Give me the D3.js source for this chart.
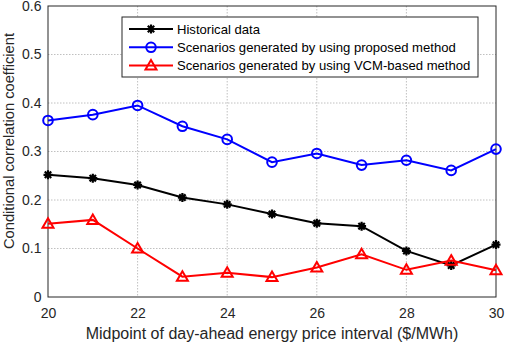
<!DOCTYPE html>
<html>
<head>
<meta charset="utf-8">
<script src="https://cdn.jsdelivr.net/npm/d3@7"></script>
<style>
  body { margin: 0; background: #fff; }
  svg { font-family: "Liberation Sans", Arial, sans-serif; }
  .grid line { stroke: #b0b0b0; stroke-width: 0.8; stroke-dasharray: 1.5,1.5; }
  .axis path, .axis line { stroke: #262626; }
  .axis text { fill: #262626; font-size: 14px; }
</style>
</head>
<body>
<div id="chart"></div>
<script>
// price interval midpoints
var midpoints = [20, 21, 22, 23, 24, 25, 26, 27, 28, 29, 30];
var historical = [0.252, 0.245, 0.231, 0.205, 0.191, 0.171, 0.152, 0.146, 0.095, 0.065, 0.108];
var proposed = [0.364, 0.376, 0.395, 0.352, 0.325, 0.278, 0.296, 0.272, 0.282, 0.261, 0.305];
var vcmBased = [0.151, 0.159, 0.100, 0.042, 0.050, 0.041, 0.061, 0.088, 0.056, 0.075, 0.055];
var xTicks = [20, 22, 24, 26, 28, 30];
var yTicks = [0, 0.1, 0.2, 0.3, 0.4, 0.5, 0.6];

var seriesList = [
  { name: "Historical data", values: historical, color: "#000000", marker: "star" },
  { name: "Scenarios generated by using proposed method", values: proposed, color: "#0000ff", marker: "circle" },
  { name: "Scenarios generated by using VCM-based method", values: vcmBased, color: "#ff0000", marker: "triangle" }
];

var margin = { top: 6, right: 9, bottom: 47, left: 48 };
var width = 505 - margin.left - margin.right;
var height = 344 - margin.top - margin.bottom;

var svg = d3.select("#chart").append("svg")
  .attr("width", 505)
  .attr("height", 344);

var g = svg.append("g")
  .attr("transform", "translate(" + margin.left + "," + margin.top + ")");

var x = d3.scaleLinear().domain([20, 30]).range([0, width]);
var y = d3.scaleLinear().domain([0, 0.6]).range([height, 0]);

// grid
g.append("g").attr("class", "grid")
  .selectAll("line").data(xTicks.slice(1, -1)).enter().append("line")
  .attr("x1", function(d){ return x(d); }).attr("x2", function(d){ return x(d); })
  .attr("y1", 0).attr("y2", height);
g.append("g").attr("class", "grid")
  .selectAll("line").data(yTicks.slice(1, -1)).enter().append("line")
  .attr("x1", 0).attr("x2", width)
  .attr("y1", function(d){ return y(d); }).attr("y2", function(d){ return y(d); });

// frame
g.append("rect")
  .attr("width", width).attr("height", height)
  .attr("fill", "none").attr("stroke", "#262626").attr("stroke-width", 1);

// axes
g.append("g").attr("class", "axis")
  .attr("transform", "translate(0," + height + ")")
  .call(d3.axisBottom(x).tickValues(xTicks).tickSize(0).tickPadding(11).tickFormat(d3.format("d")))
  .call(function(s){ s.select(".domain").remove(); });

g.append("g").attr("class", "axis")
  .call(d3.axisLeft(y).tickValues(yTicks).tickSize(0).tickPadding(6.5).tickFormat(function(d){ return d === 0 ? "0" : d3.format(".1f")(d); }))
  .call(function(s){ s.select(".domain").remove(); });

// axis labels
svg.append("text")
  .attr("x", margin.left + width / 2)
  .attr("y", 339)
  .attr("text-anchor", "middle")
  .attr("font-size", "16px")
  .attr("fill", "#262626")
  .text("Midpoint of day-ahead energy price interval ($/MWh)");

svg.append("text")
  .attr("transform", "translate(14," + 141 + ")rotate(-90)")
  .attr("text-anchor", "middle")
  .attr("font-size", "14.7px")
  .attr("fill", "#262626")
  .text("Conditional correlation coefficient");

function drawMarker(sel, type, color) {
  if (type === "circle") {
    sel.append("circle").attr("r", 4.8)
      .attr("fill", "none").attr("stroke", color).attr("stroke-width", 2);
  } else if (type === "triangle") {
    sel.append("path").attr("d", "M0,-5.5L5.5,4L-5.5,4Z")
      .attr("fill", "none").attr("stroke", color).attr("stroke-width", 2);
  } else {
    sel.append("path").attr("d", "M-4.5,0L4.5,0M0,-4.5L0,4.5M-3.2,-3.2L3.2,3.2M-3.2,3.2L3.2,-3.2")
      .attr("fill", "none").attr("stroke", color).attr("stroke-width", 2.2);
  }
}

var line = d3.line()
  .x(function(d){ return x(d[0]); })
  .y(function(d){ return y(d[1]); });

seriesList.forEach(function(s){
  var pts = midpoints.map(function(m, i){ return [m, s.values[i]]; });
  g.append("path")
    .datum(pts)
    .attr("d", line)
    .attr("fill", "none")
    .attr("stroke", s.color)
    .attr("stroke-width", 2);
  g.selectAll(".m-" + s.marker).data(pts).enter().append("g")
    .attr("class", "m-" + s.marker)
    .attr("transform", function(d){ return "translate(" + x(d[0]) + "," + y(d[1]) + ")"; })
    .each(function(){ drawMarker(d3.select(this), s.marker, s.color); });
});

// legend
var legend = svg.append("g").attr("transform", "translate(122,17)");
legend.append("rect")
  .attr("width", 356).attr("height", 60)
  .attr("fill", "#fff").attr("stroke", "#262626").attr("stroke-width", 1);

seriesList.forEach(function(s, i){
  var row = legend.append("g").attr("transform", "translate(0," + (12 + i * 18.3) + ")");
  row.append("line")
    .attr("x1", 7).attr("x2", 51)
    .attr("stroke", s.color).attr("stroke-width", 2);
  drawMarker(row.append("g").attr("transform", "translate(29,0)"), s.marker, s.color);
  row.append("text")
    .attr("x", 55).attr("dy", "0.35em")
    .attr("font-size", "13.1px")
    .attr("fill", "#000")
    .text(s.name);
});
</script>
</body>
</html>
